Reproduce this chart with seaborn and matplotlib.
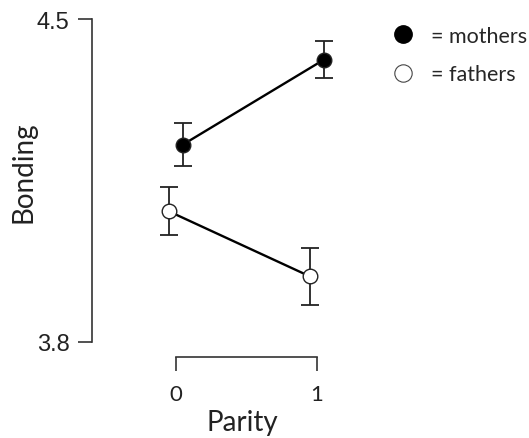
import matplotlib
matplotlib.use("Agg")
import matplotlib.pyplot as plt
from matplotlib.lines import Line2D
import seaborn as sns
import pandas as pd
import numpy as np

# ---- data ----
parity = [0, 1]
groups = ["mothers", "fathers"]
mothers_mean = [4.228, 4.412]
mothers_err = [0.047, 0.040]
fathers_mean = [4.083, 3.942]
fathers_err = [0.052, 0.062]
y_ticks = [3.8, 4.5]
x_ticks = [0, 1]

sns.set_theme(style="ticks")
plt.rcParams["font.family"] = ["Lato", "DejaVu Sans"]

dodge = {"mothers": 0.05, "fathers": -0.05}
rows = []
for g, means, errs in [("mothers", mothers_mean, mothers_err), ("fathers", fathers_mean, fathers_err)]:
    for p, m, e in zip(parity, means, errs):
        rows.append({"group": g, "parity": p, "x": p + dodge[g], "Bonding": m, "err": e})
df = pd.DataFrame(rows)

fig = plt.figure(figsize=(5.29, 4.39), dpi=100)
ax = fig.add_axes([0.1996, 0.2194, 0.532, 0.7344])

for g in groups:
    sub = df[df.group == g]
    ax.errorbar(sub["x"], sub["Bonding"], yerr=sub["err"], fmt="none",
                ecolor="#222222", elinewidth=1.3, capsize=6.5, capthick=1.3, zorder=2)

sns.lineplot(data=df, x="x", y="Bonding", hue="group", hue_order=groups,
             palette={"mothers": "black", "fathers": "black"}, ax=ax,
             legend=False, linewidth=1.7, zorder=3, estimator=None, sort=True)
for g, fc in [("mothers", "black"), ("fathers", "white")]:
    sub = df[df.group == g]
    ax.plot(sub["x"], sub["Bonding"], linestyle="none", marker="o", markersize=10.5,
            markerfacecolor=fc, markeredgecolor="#222222", markeredgewidth=1.0, zorder=4)

sns.despine(ax=ax, top=True, right=True)
ax.spines["left"].set_position(("outward", 10))
ax.spines["bottom"].set_position(("outward", 11))
ax.spines["bottom"].set_bounds(0, 1)
for s in ["left", "bottom"]:
    ax.spines[s].set_color("#333333")
    ax.spines[s].set_linewidth(1.2)

ax.set_xlim(-0.5, 1.5)
ax.set_ylim(3.8, 4.5)
ax.set_xticks(x_ticks)
ax.set_xticklabels([str(v) for v in x_ticks], fontsize=16, color="#222222")
ax.set_yticks(y_ticks)
ax.set_yticklabels([f"{v:.1f}" for v in y_ticks], fontsize=17, family="Liberation Sans", color="#222222")
ax.tick_params(axis="both", length=10, width=1.2, color="#333333")
ax.tick_params(axis="y", pad=6)
ax.tick_params(axis="x", pad=9.5)

ax.set_xlabel("Parity", fontsize=20, color="#222222")
ax.set_ylabel("Bonding", fontsize=20, color="#222222")
ax.xaxis.set_label_coords(0.486, -0.21)
ax.yaxis.set_label_coords(-0.245, 0.53)

handles = [
    Line2D([], [], linestyle="none", marker="o", markersize=12.5, markerfacecolor="black", markeredgecolor="black"),
    Line2D([], [], linestyle="none", marker="o", markersize=12.5, markerfacecolor="white", markeredgecolor="#444444", markeredgewidth=0.8),
]
fig.legend(handles, ["= mothers", "= fathers"], loc="upper left", bbox_to_anchor=(0.70, 0.983),
           frameon=False, fontsize=15.5, handletextpad=0.7, labelspacing=0.85, handlelength=1.2)

fig.savefig("out.png", dpi=100, facecolor="white")
